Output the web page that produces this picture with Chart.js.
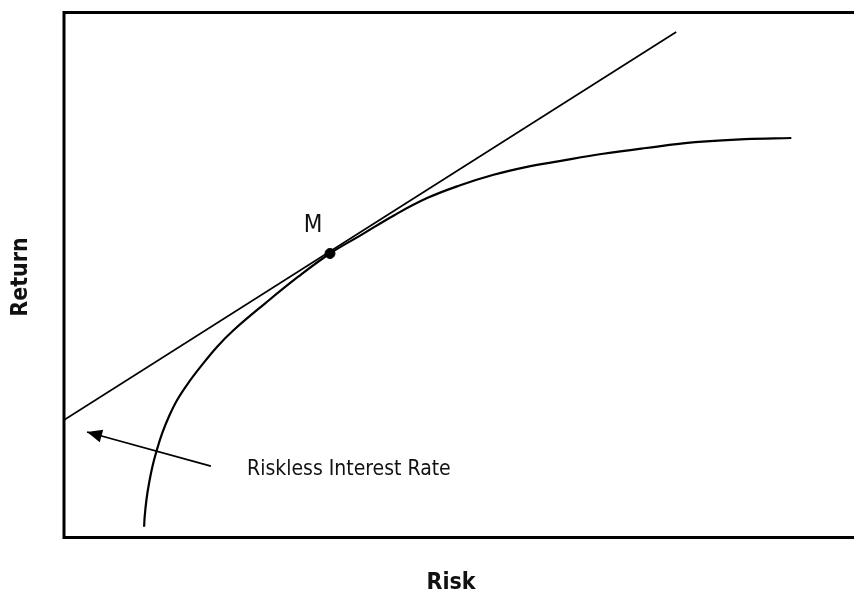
<!DOCTYPE html>
<html>
<head>
<meta charset="utf-8">
<script src="https://cdn.jsdelivr.net/npm/chart.js@4.4.1/dist/chart.umd.min.js"></script>
<style>
  html, body { margin: 0; padding: 0; background: #fff; overflow: hidden; }
  #wrap { width: 864px; height: 595px; }
</style>
</head>
<body>
<div id="wrap"><canvas id="myChart" width="864" height="595"></canvas></div>
<script>
// efficient frontier (risk, return)
const curveRisk = [10.09, 10.16, 10.38, 10.71, 11.13, 11.69, 12.38, 13.19, 14.25, 15.56, 17.21, 19.29, 21.38, 25.34, 29.5, 33.5, 37.4, 41.6, 45.8, 49.9, 54.1, 58.3, 62.4, 67.9, 73.3, 79.5, 85.8, 91.6];
const curveReturn = [1.96, 3.87, 7.05, 10.23, 13.39, 16.57, 19.81, 22.86, 26.1, 29.14, 32.44, 36.25, 39.43, 44.51, 49.58, 54.0, 57.5, 61.3, 64.6, 67.0, 69.0, 70.5, 71.6, 73.0, 74.1, 75.2, 75.8, 76.0];

// capital market line, from the riskless rate through M
const lineRisk = [0, 77.1];
const lineReturn = [22.3, 96.2];

// market portfolio
const pointM = { x: 33.5, y: 54.0 };

// arrow pointing at the riskless rate (tail, tip)
const arrowRisk = [18.5, 2.9];
const arrowReturn = [13.5, 20.0];

const labels = {
  xTitle: "Risk",
  yTitle: "Return",
  m: "M",
  riskless: "Riskless Interest Rate",
};

const narrow = '"Liberation Sans Narrow", "DejaVu Sans Condensed", sans-serif';

function toPoints(xs, ys) {
  return xs.map((x, i) => ({ x: x, y: ys[i] }));
}

const boxAndText = {
  id: "boxAndText",
  afterDraw(chart) {
    const ctx = chart.ctx;
    const a = chart.chartArea;
    const xs = chart.scales.x;
    const ys = chart.scales.y;
    ctx.save();

    // frame round the plot
    ctx.strokeStyle = "#000";
    ctx.lineWidth = 3;
    ctx.strokeRect(a.left, a.top + 0.5, a.right - a.left, a.bottom - a.top);

    // arrow head
    const x0 = xs.getPixelForValue(arrowRisk[0]);
    const y0 = ys.getPixelForValue(arrowReturn[0]);
    const x1 = xs.getPixelForValue(arrowRisk[1]);
    const y1 = ys.getPixelForValue(arrowReturn[1]);
    const ang = Math.atan2(y1 - y0, x1 - x0);
    const len = 15, half = 6.5;
    ctx.fillStyle = "#000";
    ctx.beginPath();
    ctx.moveTo(x1, y1);
    ctx.lineTo(x1 - len * Math.cos(ang) + half * Math.sin(ang), y1 - len * Math.sin(ang) - half * Math.cos(ang));
    ctx.lineTo(x1 - len * Math.cos(ang) - half * Math.sin(ang), y1 - len * Math.sin(ang) + half * Math.cos(ang));
    ctx.closePath();
    ctx.fill();

    // texts
    ctx.fillStyle = "#111";
    ctx.textAlign = "center";
    ctx.textBaseline = "middle";
    ctx.font = "24px " + narrow;
    ctx.fillText(labels.m, xs.getPixelForValue(pointM.x) - 17, ys.getPixelForValue(pointM.y) - 28);

    ctx.font = "21px " + narrow;
    ctx.textAlign = "left";
    ctx.fillText(labels.riskless, 247, 470);

    ctx.textAlign = "center";
    ctx.font = "bold 23px " + narrow;
    ctx.fillText(labels.xTitle, 451, 583);

    ctx.translate(21, 277);
    ctx.rotate(-Math.PI / 2);
    ctx.fillText(labels.yTitle, 0, 0);
    ctx.restore();
  },
};

const ctx = document.getElementById("myChart").getContext("2d");
new Chart(ctx, {
  type: "scatter",
  data: {
    datasets: [
      {
        label: "Frontier",
        data: toPoints(curveRisk, curveReturn),
        showLine: true,
        borderColor: "#000",
        borderWidth: 2.2,
        pointRadius: 0,
        tension: 0.4,
      },
      {
        label: "CML",
        data: toPoints(lineRisk, lineReturn),
        showLine: true,
        borderColor: "#000",
        borderWidth: 1.7,
        pointRadius: 0,
      },
      {
        label: "Arrow",
        data: toPoints(arrowRisk, arrowReturn),
        showLine: true,
        borderColor: "#000",
        borderWidth: 1.7,
        pointRadius: 0,
      },
      {
        label: "M",
        data: [pointM],
        backgroundColor: "#000",
        borderColor: "#000",
        pointRadius: 5,
        borderWidth: 1,
      },
    ],
  },
  options: {
    responsive: false,
    animation: false,
    layout: { padding: { left: 64, top: 12, right: 0, bottom: 58 } },
    plugins: {
      legend: { display: false },
      tooltip: { enabled: false },
    },
    scales: {
      x: { type: "linear", min: 0, max: 100, display: false },
      y: { type: "linear", min: 0, max: 100, display: false },
    },
  },
  plugins: [boxAndText],
});
</script>
</body>
</html>
